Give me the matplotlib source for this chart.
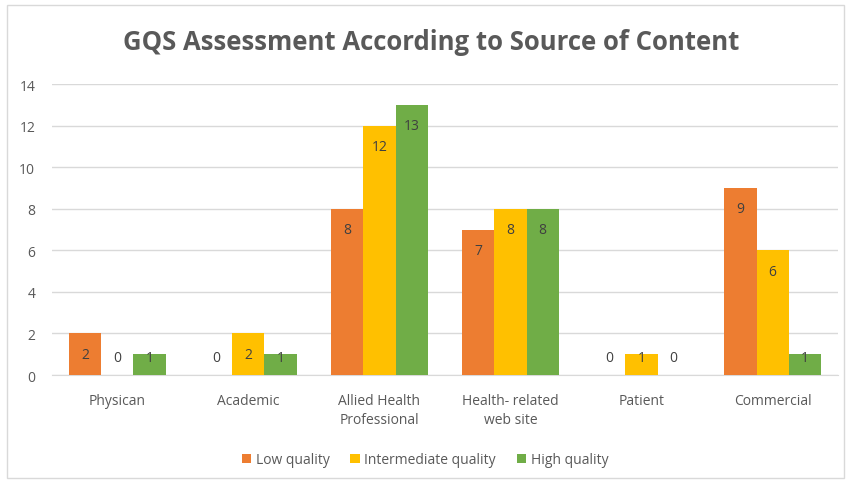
import matplotlib.pyplot as plt
import numpy as np
from matplotlib.patches import Rectangle

plt.rcParams['font.family'] = ['Open Sans', 'DejaVu Sans']

categories = ["Physican", "Academic", "Allied Health\nProfessional",
              "Health- related\nweb site", "Patient", "Commercial"]
series = ["Low quality", "Intermediate quality", "High quality"]
low = [2, 0, 8, 7, 0, 9]
intermediate = [0, 2, 12, 8, 1, 6]
high = [1, 1, 13, 8, 0, 1]
colors = ["#ED7D31", "#FFC000", "#70AD47"]

fig = plt.figure(figsize=(8.5, 4.85), dpi=100)
ax = fig.add_axes([0.061, 0.2247, 0.925, 0.60])

# light frame around the whole chart, like the Excel chart area
fig.patches.append(Rectangle((0.008, 0.012), 0.985, 0.975, transform=fig.transFigure,
                             fill=False, edgecolor="#D9D9D9", linewidth=1))

x = np.arange(len(categories))
width = 0.245
for i, (vals, name) in enumerate(zip([low, intermediate, high], series)):
    pos = x + (i - 1) * width
    ax.bar(pos, vals, width, color=colors[i], label=name, zorder=3)
    for p, v in zip(pos, vals):
        ax.text(p, max(v - 1, 0.85), str(v), ha='center', va='center',
                fontsize=10, color="#404040", zorder=4)

ax.set_xlim(-0.5, len(categories) - 0.5)
ax.set_ylim(0, 14)
ax.set_yticks(range(0, 15, 2))
ax.grid(axis='y', color="#D9D9D9", linewidth=1, zorder=0)
for s in ["top", "right", "left"]:
    ax.spines[s].set_visible(False)
ax.spines["bottom"].set_color("#D9D9D9")
ax.tick_params(length=0, labelsize=10, labelcolor="#595959")
ax.tick_params(axis='y', pad=12)
ax.tick_params(axis='x', pad=13)
ax.set_xticks(x)
ax.set_xticklabels(categories, linespacing=1.4)

fig.text(0.507, 0.913, "GQS Assessment According to Source of Content",
         ha='center', va='center', fontsize=18.5, fontweight='bold', color="#595959")

fig.legend(loc='center', bbox_to_anchor=(0.5, 0.05), ncol=3, frameon=False,
           fontsize=10, labelcolor="#595959", handlelength=0.7, handleheight=0.7,
           handletextpad=0.3, columnspacing=1.5)

fig.savefig("out.png", dpi=100)
